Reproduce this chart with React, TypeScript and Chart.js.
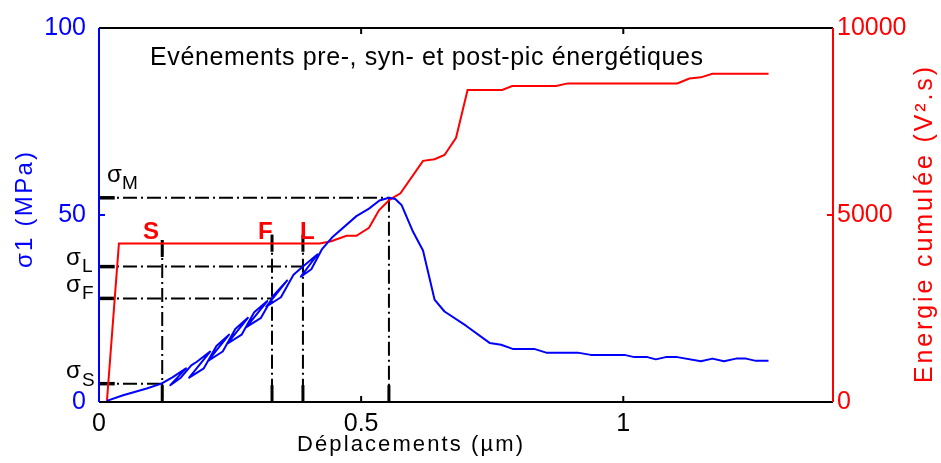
import React, { useEffect, useRef } from 'react';
import { Chart, registerables } from 'chart.js';

Chart.register(...registerables);

// ---- data ----
const xTicks = [0, 0.5, 1];
const sigmaTicks = [0, 50, 100];
const energyTicks = [0, 5000, 10000];

// σ1 (MPa) vs displacement (µm), including unloading/reloading loops
const sigmaDisp = [
  0.015, 0.046, 0.091, 0.119, 0.140, 0.166, 0.136, 0.156, 0.176, 0.186, 0.212, 0.172,
  0.200, 0.224, 0.248, 0.208, 0.236, 0.260, 0.284, 0.244, 0.272, 0.296, 0.321, 0.281,
  0.309, 0.333, 0.359, 0.319, 0.347, 0.371, 0.389, 0.417, 0.385, 0.405, 0.425, 0.446,
  0.491, 0.515, 0.535, 0.553, 0.565, 0.577, 0.599, 0.618, 0.640, 0.659, 0.700, 0.745,
  0.767, 0.789, 0.830, 0.853, 0.913, 0.938, 1.002, 1.021, 1.046, 1.062, 1.081, 1.103,
  1.148, 1.170, 1.192, 1.215, 1.234, 1.253, 1.277,
];
const sigmaMPa = [
  0.3, 1.8, 3.6, 4.9, 6.6, 9.0, 4.5, 6.5, 9.8, 10.7, 13.5, 6.5,
  9.0, 15.0, 18.0, 11.0, 13.5, 19.5, 22.5, 15.5, 18.0, 24.0, 27.0, 20.0,
  22.5, 28.5, 32.5, 25.5, 28.0, 34.0, 36.2, 39.5, 33.5, 35.5, 40.8, 44.2,
  49.7, 51.7, 53.9, 54.6, 54.3, 52.7, 45.5, 40.5, 27.4, 24.2, 20.4, 15.8,
  15.3, 14.2, 14.2, 13.2, 13.2, 12.6, 12.6, 12.0, 12.0, 11.4, 12.0, 12.0,
  10.9, 11.6, 10.9, 11.6, 11.6, 11.0, 11.0,
];

// cumulative energy (V².s) vs displacement (µm)
const energyDisp = [
  0, 0.015, 0.038, 0.421, 0.443, 0.472, 0.491, 0.515, 0.534, 0.554, 0.575, 0.618,
  0.640, 0.659, 0.681, 0.703, 0.769, 0.788, 0.872, 0.894, 1.103, 1.126, 1.148, 1.170, 1.277,
];
const energyVs = [
  0, 0, 4240, 4240, 4300, 4444, 4444, 4656, 5124, 5405, 5582, 6447,
  6490, 6605, 7063, 8342, 8342, 8447, 8447, 8519, 8519, 8651, 8680, 8775, 8775,
];

// characteristic points S, F, L, M
const markerNames = ['S', 'F', 'L', 'M'];
const markerDisp = [0.1206, 0.330, 0.389, 0.553];
const markerSigma = [4.9, 27.7, 36.2, 54.6];
const markerTop = [43.3, 44.7, 44.7, 54.6];

// ---- styles ----
const FONT = '"Liberation Sans", Arial, Helvetica, sans-serif';
const BLUE = '#0000ff';
const RED = '#ff0000';
const DASH_DOT = [14, 4, 2, 4];
const TICK_X = 0.03;
const TICK_Y = 4.5;

const pts = (xs: number[], ys: number[]) => xs.map((x, i) => ({ x, y: ys[i] }));

const lineBase = {
  pointRadius: 0,
  pointHoverRadius: 0,
  fill: false,
  tension: 0,
  yAxisID: 'y',
  borderCapStyle: 'butt' as const,
};

function drawSpaced(
  ctx: CanvasRenderingContext2D,
  text: string,
  x: number,
  y: number,
  width: number,
  font: string,
  color: string,
  opts: { center?: boolean; rotate?: boolean; baseline?: CanvasTextBaseline } = {}
) {
  ctx.save();
  ctx.font = font;
  ctx.fillStyle = color;
  (ctx as any).letterSpacing = '0px';
  const w = ctx.measureText(text).width;
  const ls = (width - w) / Math.max(1, text.length - 1);
  (ctx as any).letterSpacing = `${ls}px`;
  ctx.translate(x, y);
  if (opts.rotate) ctx.rotate(-Math.PI / 2);
  ctx.textAlign = 'left';
  ctx.textBaseline = opts.baseline || 'middle';
  ctx.fillText(text, opts.center ? -width / 2 : 0, 0);
  ctx.restore();
}

function drawText(
  ctx: CanvasRenderingContext2D,
  text: string,
  x: number,
  y: number,
  font: string,
  color: string
) {
  ctx.save();
  ctx.font = font;
  ctx.fillStyle = color;
  ctx.textAlign = 'left';
  ctx.textBaseline = 'alphabetic';
  ctx.fillText(text, x, y);
  ctx.restore();
}

const overlayPlugin = {
  id: 'overlay',
  afterDraw(chart: any) {
    const ctx: CanvasRenderingContext2D = chart.ctx;
    const { left, right, top, bottom } = chart.chartArea;
    const xs = chart.scales.x;
    const ys = chart.scales.y;
    const y2 = chart.scales.y2;

    // frame
    ctx.save();
    ctx.lineWidth = 2;
    ctx.strokeStyle = '#000';
    ctx.beginPath();
    ctx.moveTo(left, top);
    ctx.lineTo(right, top);
    ctx.moveTo(left, bottom);
    ctx.lineTo(right, bottom);
    ctx.stroke();
    ctx.strokeStyle = BLUE;
    ctx.beginPath();
    ctx.moveTo(left, top);
    ctx.lineTo(left, bottom);
    ctx.stroke();
    ctx.strokeStyle = RED;
    ctx.beginPath();
    ctx.moveTo(right, top);
    ctx.lineTo(right, bottom);
    ctx.stroke();

    // inward ticks
    ctx.strokeStyle = '#000';
    ctx.beginPath();
    xTicks.slice(1).forEach((v) => {
      const px = xs.getPixelForValue(v);
      ctx.moveTo(px, bottom);
      ctx.lineTo(px, bottom - 6);
      ctx.moveTo(px, top);
      ctx.lineTo(px, top + 6);
    });
    ctx.stroke();
    ctx.strokeStyle = BLUE;
    ctx.beginPath();
    sigmaTicks.slice(1, -1).forEach((v) => {
      const py = ys.getPixelForValue(v);
      ctx.moveTo(left, py);
      ctx.lineTo(left + 6, py);
    });
    ctx.stroke();
    ctx.strokeStyle = RED;
    ctx.beginPath();
    energyTicks.slice(1, -1).forEach((v) => {
      const py = y2.getPixelForValue(v);
      ctx.moveTo(right, py);
      ctx.lineTo(right - 6, py);
    });
    ctx.stroke();
    ctx.restore();

    // title
    drawSpaced(ctx, 'Evénements pre-, syn- et post-pic énergétiques', 150, 65, 553, `25px ${FONT}`, '#000', {
      baseline: 'alphabetic',
    });

    // axis titles
    drawSpaced(ctx, 'σ1 (MPa)', 25, 210, 116, `24px ${FONT}`, BLUE, { center: true, rotate: true });
    drawSpaced(ctx, 'Energie cumulée (V².s)', 925, 225, 316, `25px ${FONT}`, RED, { center: true, rotate: true });
    drawSpaced(ctx, 'Déplacements (µm)', 410, 445, 226, `22px ${FONT}`, '#000', { center: true });

    // red event letters
    const evFont = `bold 24px ${FONT}`;
    drawText(ctx, 'S', 143, 239, evFont, RED);
    drawText(ctx, 'F', 258, 239, evFont, RED);
    drawText(ctx, 'L', 300, 239, evFont, RED);

    // sigma labels
    const sFont = `24px ${FONT}`;
    const subFont = `19px ${FONT}`;
    const sigmaLabelPos: Record<string, [number, number, number, number]> = {
      M: [107, 182, 122, 189],
      L: [66, 265, 82, 272],
      F: [66, 292, 82, 299],
      S: [66, 378, 82, 386],
    };
    markerNames.forEach((n) => {
      const p = sigmaLabelPos[n];
      drawText(ctx, 'σ', p[0], p[1], sFont, '#000');
      drawText(ctx, n, p[2], p[3], subFont, '#000');
    });
  },
};

export default function App() {
  const ref = useRef<HTMLCanvasElement>(null);

  useEffect(() => {
    document.body.style.margin = '0';
    const markerSets: any[] = [];
    markerNames.forEach((n, i) => {
      const common = { ...lineBase, borderColor: '#000' };
      markerSets.push({
        ...common,
        label: `h${n}`,
        data: [
          { x: 0, y: markerSigma[i] },
          { x: markerDisp[i], y: markerSigma[i] },
        ],
        borderWidth: 2,
        borderDash: DASH_DOT,
      });
      markerSets.push({
        ...common,
        label: `v${n}`,
        data: [
          { x: markerDisp[i], y: markerTop[i] },
          { x: markerDisp[i], y: 0 },
        ],
        borderWidth: 2,
        borderDash: DASH_DOT,
      });
      markerSets.push({
        ...common,
        label: `th${n}`,
        data: [
          { x: 0, y: markerSigma[i] },
          { x: TICK_X, y: markerSigma[i] },
        ],
        borderWidth: 3.5,
      });
      markerSets.push({
        ...common,
        label: `tb${n}`,
        data: [
          { x: markerDisp[i], y: 0 },
          { x: markerDisp[i], y: TICK_Y },
        ],
        borderWidth: 3,
      });
      if (n !== 'M') {
        markerSets.push({
          ...common,
          label: `tt${n}`,
          data: [
            { x: markerDisp[i], y: markerTop[i] },
            { x: markerDisp[i], y: markerTop[i] - TICK_Y },
          ],
          borderWidth: 3,
        });
      }
    });

    const tickFont = { family: FONT, size: 25 };

    const chart = new Chart(ref.current!, {
      type: 'line',
      data: {
        datasets: [
          {
            ...lineBase,
            label: 'σ1',
            data: pts(sigmaDisp, sigmaMPa),
            borderColor: BLUE,
            borderWidth: 2,
            borderJoinStyle: 'round',
            yAxisID: 'y',
          },
          {
            ...lineBase,
            label: 'Energie',
            data: pts(energyDisp, energyVs),
            borderColor: RED,
            borderWidth: 2,
            yAxisID: 'y2',
          },
          ...markerSets,
        ],
      },
      options: {
        animation: false,
        responsive: false,
        maintainAspectRatio: false,
        devicePixelRatio: 1,
        layout: { padding: { top: 24, left: 0, right: 0, bottom: 0 } },
        plugins: {
          legend: { display: false },
          tooltip: { enabled: false },
        },
        events: [],
        scales: {
          x: {
            type: 'linear',
            min: 0,
            max: 1.4,
            grid: { display: false, drawTicks: false },
            border: { display: false },
            afterBuildTicks: (s: any) => {
              s.ticks = xTicks.map((v) => ({ value: v }));
            },
            afterFit: (s: any) => {
              s.height = 61;
            },
            ticks: {
              color: '#000',
              font: tickFont,
              padding: 7,
              maxRotation: 0,
              autoSkip: false,
              callback: (v: any) => String(v),
            },
          },
          y: {
            type: 'linear',
            position: 'left',
            min: 0,
            max: 100,
            grid: { display: false, drawTicks: false },
            border: { display: false },
            afterBuildTicks: (s: any) => {
              s.ticks = sigmaTicks.map((v) => ({ value: v }));
            },
            afterFit: (s: any) => {
              s.width = 99;
            },
            ticks: {
              color: BLUE,
              font: tickFont,
              padding: 13,
              autoSkip: false,
              callback: (v: any) => String(v),
            },
          },
          y2: {
            type: 'linear',
            position: 'right',
            min: 0,
            max: 10000,
            grid: { display: false, drawTicks: false },
            border: { display: false },
            afterBuildTicks: (s: any) => {
              s.ticks = energyTicks.map((v) => ({ value: v }));
            },
            afterFit: (s: any) => {
              s.width = 108;
            },
            ticks: {
              color: RED,
              font: tickFont,
              padding: 4,
              autoSkip: false,
              callback: (v: any) => String(v),
            },
          },
        },
      },
      plugins: [overlayPlugin],
    } as any);

    return () => chart.destroy();
  }, []);

  return (
    <div style={{ width: 941, height: 463, background: '#fff' }}>
      <canvas ref={ref} width={941} height={463} style={{ display: 'block', width: 941, height: 463 }} />
    </div>
  );
}
